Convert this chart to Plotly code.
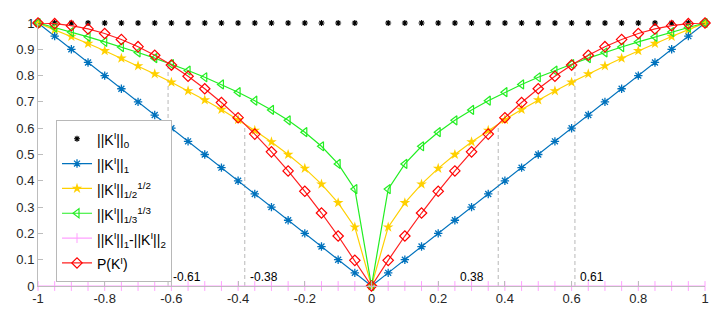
import plotly.graph_objects as go

x_vals = [-1.0, -0.95, -0.9, -0.85, -0.8, -0.75, -0.7, -0.65, -0.6, -0.55, -0.5,
          -0.45, -0.4, -0.35, -0.3, -0.25, -0.2, -0.15, -0.1, -0.05, 0.0,
          0.05, 0.1, 0.15, 0.2, 0.25, 0.3, 0.35, 0.4, 0.45, 0.5,
          0.55, 0.6, 0.65, 0.7, 0.75, 0.8, 0.85, 0.9, 0.95, 1.0]

l0_vals = [1]*20 + [0] + [1]*20

l1_vals = [1.0, 0.95, 0.9, 0.85, 0.8, 0.75, 0.7, 0.65, 0.6, 0.55, 0.5,
           0.45, 0.4, 0.35, 0.3, 0.25, 0.2, 0.15, 0.1, 0.05, 0.0,
           0.05, 0.1, 0.15, 0.2, 0.25, 0.3, 0.35, 0.4, 0.45, 0.5,
           0.55, 0.6, 0.65, 0.7, 0.75, 0.8, 0.85, 0.9, 0.95, 1.0]

lhalf_vals = [1.0, 0.9747, 0.9487, 0.922, 0.8944, 0.866, 0.8367, 0.8062, 0.7746, 0.7416, 0.7071,
              0.6708, 0.6325, 0.5916, 0.5477, 0.5, 0.4472, 0.3873, 0.3162, 0.2236, 0.0,
              0.2236, 0.3162, 0.3873, 0.4472, 0.5, 0.5477, 0.5916, 0.6325, 0.6708, 0.7071,
              0.7416, 0.7746, 0.8062, 0.8367, 0.866, 0.8944, 0.922, 0.9487, 0.9747, 1.0]

lthird_vals = [1.0, 0.983, 0.9655, 0.9473, 0.9283, 0.9086, 0.8879, 0.8662, 0.8434, 0.8193, 0.7937,
               0.7663, 0.7368, 0.7047, 0.6694, 0.63, 0.5848, 0.5313, 0.4642, 0.3684, 0.0,
               0.3684, 0.4642, 0.5313, 0.5848, 0.63, 0.6694, 0.7047, 0.7368, 0.7663, 0.7937,
               0.8193, 0.8434, 0.8662, 0.8879, 0.9086, 0.9283, 0.9473, 0.9655, 0.983, 1.0]

ldiff_vals = [0.0]*41

p_vals = [1.0, 0.9975, 0.99, 0.9775, 0.96, 0.9375, 0.91, 0.8775, 0.84, 0.7975, 0.75,
          0.6975, 0.64, 0.5775, 0.51, 0.4375, 0.36, 0.2775, 0.19, 0.0975, 0.0,
          0.0975, 0.19, 0.2775, 0.36, 0.4375, 0.51, 0.5775, 0.64, 0.6975, 0.75,
          0.7975, 0.84, 0.8775, 0.91, 0.9375, 0.96, 0.9775, 0.99, 0.9975, 1.0]

cross_x = [-0.61, -0.38, 0.38, 0.61]
cross_y = [0.848, 0.616, 0.616, 0.848]
cross_labels = ["-0.61", "-0.38", "0.38", "0.61"]

legend_names = [
    "||K<sup>I</sup>||<sub>0</sub>",
    "||K<sup>I</sup>||<sub>1</sub>",
    "||K<sup>I</sup>||<sub>1/2</sub><sup>1/2</sup>",
    "||K<sup>I</sup>||<sub>1/3</sub><sup>1/3</sup>",
    "||K<sup>I</sup>||<sub>1</sub>-||K<sup>I</sup>||<sub>2</sub>",
    "P(K<sup>I</sup>)",
]

x_tickvals = [-1, -0.8, -0.6, -0.4, -0.2, 0, 0.2, 0.4, 0.6, 0.8, 1]
x_ticktext = ["-1", "-0.8", "-0.6", "-0.4", "-0.2", "0", "0.2", "0.4", "0.6", "0.8", "1"]
y_tickvals = [0, 0.1, 0.2, 0.3, 0.4, 0.5, 0.6, 0.7, 0.8, 0.9, 1]
y_ticktext = ["0", "0.1", "0.2", "0.3", "0.4", "0.5", "0.6", "0.7", "0.8", "0.9", "1"]


def lname(s):
    return '<span style="font-size:14px">' + s + '</span>'


fig = go.Figure()

# dashed guide lines
for cx, cy in zip(cross_x, cross_y):
    fig.add_trace(go.Scatter(x=[cx, cx], y=[0, cy], mode="lines",
                             line=dict(color="#b8b8b8", width=1, dash="4px,3px"),
                             showlegend=False, hoverinfo="skip", cliponaxis=False))

fig.add_trace(go.Scatter(x=x_vals, y=l0_vals, mode="markers",
                         name=lname(legend_names[0]),
                         marker=dict(symbol="asterisk-open", size=5, color="#000000",
                                     line=dict(color="#000000", width=1.2)),
                         cliponaxis=False))
fig.add_trace(go.Scatter(x=x_vals, y=l1_vals, mode="lines+markers",
                         name=lname(legend_names[1]),
                         line=dict(color="#0072BD", width=1.2),
                         marker=dict(symbol="asterisk-open", size=7, color="#0072BD",
                                     line=dict(color="#0072BD", width=1.3)),
                         cliponaxis=False))
fig.add_trace(go.Scatter(x=x_vals, y=lhalf_vals, mode="lines+markers",
                         name=lname(legend_names[2]),
                         line=dict(color="#FFD000", width=1.2),
                         marker=dict(symbol="star", size=8, color="#FFD000",
                                     line=dict(color="#FFD000", width=0)),
                         cliponaxis=False))
fig.add_trace(go.Scatter(x=x_vals, y=lthird_vals, mode="lines+markers",
                         name=lname(legend_names[3]),
                         line=dict(color="#22EE22", width=1.2),
                         marker=dict(symbol="triangle-left-open", size=8, color="#22EE22",
                                     line=dict(color="#22EE22", width=1.2)),
                         cliponaxis=False))
fig.add_trace(go.Scatter(x=x_vals, y=ldiff_vals, mode="lines+markers",
                         name=lname(legend_names[4]),
                         line=dict(color="#FFA0FF", width=1.2),
                         marker=dict(symbol="line-ns-open", size=7, color="#FFA0FF",
                                     line=dict(color="#FFA0FF", width=1)),
                         cliponaxis=False))
fig.add_trace(go.Scatter(x=x_vals, y=p_vals, mode="lines+markers",
                         name=lname(legend_names[5]),
                         line=dict(color="#FF2020", width=1.2),
                         marker=dict(symbol="diamond-open", size=8, color="#FF0000",
                                     line=dict(color="#FF0000", width=1.2)),
                         cliponaxis=False))

for cx, lab in zip(cross_x, cross_labels):
    if cx == 0.38:
        fig.add_annotation(x=cx, y=0.035, text=lab, showarrow=False,
                           xanchor="right", xshift=-12, yanchor="middle",
                           font=dict(size=12, color="#000000"))
    else:
        fig.add_annotation(x=cx, y=0.035, text=lab, showarrow=False,
                           xanchor="left", xshift=3, yanchor="middle",
                           font=dict(size=12, color="#000000"))

fig.update_layout(
    width=715, height=309,
    margin=dict(l=30, r=18, t=8, b=31),
    paper_bgcolor="white", plot_bgcolor="white",
    font=dict(family="Liberation Sans, Arial, sans-serif", size=13, color="#262626"),
    showlegend=True,
    legend=dict(x=0.027, y=0.63, xanchor="left", yanchor="top",
                bgcolor="white", bordercolor="#b8b8b8", borderwidth=1,
                font=dict(size=16.8, color="#000000"), itemwidth=30,
                tracegroupgap=0),
    xaxis=dict(range=[-1, 1], tickvals=x_tickvals, ticktext=x_ticktext,
               showgrid=False, zeroline=False, showline=True, linecolor="#bdbdbd",
               linewidth=1, ticks="inside", ticklen=5, tickcolor="#bdbdbd",
               tickfont=dict(size=13, color="#262626"), fixedrange=True),
    yaxis=dict(range=[0, 1], tickvals=y_tickvals, ticktext=y_ticktext,
               showgrid=False, zeroline=False, showline=True, linecolor="#bdbdbd",
               linewidth=1, ticks="inside", ticklen=5, tickcolor="#bdbdbd",
               tickfont=dict(size=13, color="#262626"), fixedrange=True),
)

fig.write_html("out.html")
